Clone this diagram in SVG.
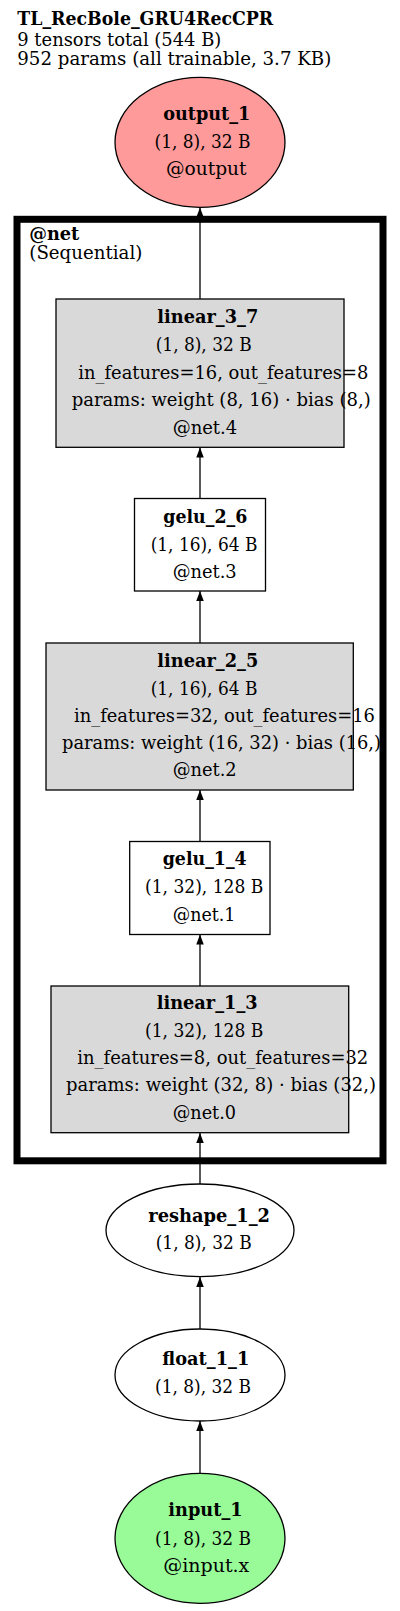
<svg xmlns="http://www.w3.org/2000/svg" width="400" height="1611" viewBox="0 0 400 1611">
<style>
text{font-family:"DejaVu Serif","Liberation Serif",serif;font-size:18px;fill:#000}
.b{font-weight:bold}
.box{fill:#d9d9d9;stroke:#000;stroke-width:1.3}
.wbox{fill:#fff;stroke:#000;stroke-width:1.3}
.ell{fill:#fff;stroke:#000;stroke-width:1.3}
.edge{stroke:#000;stroke-width:1.3;fill:none;marker-end:url(#ah)}
</style>
<defs>
<marker id="ah" markerUnits="userSpaceOnUse" markerWidth="11" markerHeight="8" refX="10" refY="3.75" orient="auto">
<path d="M0,0 L10,3.75 L0,7.5 z" fill="#000"/>
</marker>
</defs>
<rect width="400" height="1611" fill="#fff"/>
<g id="header">
<text class="b" x="17.3" y="25" textLength="256" lengthAdjust="spacingAndGlyphs">TL_RecBole_GRU4RecCPR</text>
<text x="17.3" y="45.5" textLength="204" lengthAdjust="spacingAndGlyphs">9 tensors total (544 B)</text>
<text x="17.3" y="65" textLength="314" lengthAdjust="spacingAndGlyphs">952 params (all trainable, 3.7 KB)</text>
</g>
<g id="cluster_net">
<rect x="17" y="219.3" width="366" height="941.5" fill="none" stroke="#000" stroke-width="7"/>
<text class="b" x="29.3" y="240" textLength="50" lengthAdjust="spacingAndGlyphs">@net</text>
<text x="29.3" y="259" textLength="113" lengthAdjust="spacingAndGlyphs">(Sequential)</text>
</g>
<g id="connectors">
<line class="edge" x1="200" y1="1473.5" x2="200" y2="1421"/>
<line class="edge" x1="200" y1="1329" x2="200" y2="1277"/>
<line class="edge" x1="200" y1="1184" x2="200" y2="1133"/>
<line class="edge" x1="200" y1="986" x2="200" y2="934.5"/>
<line class="edge" x1="200" y1="841.5" x2="200" y2="790"/>
<line class="edge" x1="200" y1="643" x2="200" y2="591"/>
<line class="edge" x1="200" y1="498.5" x2="200" y2="447.5"/>
<line class="edge" x1="200" y1="299" x2="200" y2="207.5"/>
</g>
<g id="output_1">
<ellipse cx="200" cy="142.3" rx="85" ry="65" fill="#ff9a9a" stroke="#000" stroke-width="1.3"/>
<text class="b" x="163.3" y="120" textLength="87" lengthAdjust="spacingAndGlyphs">output_1</text>
<text x="154.5" y="148" textLength="96" lengthAdjust="spacingAndGlyphs">(1, 8), 32 B</text>
<text x="166" y="175" textLength="80.5" lengthAdjust="spacingAndGlyphs">@output</text>
</g>
<g id="linear_3_7">
<rect class="box" x="56" y="299" width="288" height="148.3"/>
<text class="b" x="157.3" y="323" textLength="101" lengthAdjust="spacingAndGlyphs">linear_3_7</text>
<text x="155.7" y="351" textLength="96" lengthAdjust="spacingAndGlyphs">(1, 8), 32 B</text>
<text x="78.3" y="378.7" textLength="290" lengthAdjust="spacingAndGlyphs">in_features=16, out_features=8</text>
<text x="71.7" y="406.3" textLength="299" lengthAdjust="spacingAndGlyphs">params: weight (8, 16) · bias (8,)</text>
<text x="172.7" y="434" textLength="64.5" lengthAdjust="spacingAndGlyphs">@net.4</text>
</g>
<g id="gelu_2_6">
<rect class="wbox" x="134.5" y="498.5" width="131" height="92.5"/>
<text class="b" x="163.3" y="523.3" textLength="84" lengthAdjust="spacingAndGlyphs">gelu_2_6</text>
<text x="150.7" y="550.7" textLength="106.7" lengthAdjust="spacingAndGlyphs">(1, 16), 64 B</text>
<text x="172.7" y="578.3" textLength="64" lengthAdjust="spacingAndGlyphs">@net.3</text>
</g>
<g id="linear_2_5">
<rect class="box" x="46" y="643" width="307.3" height="147"/>
<text class="b" x="157.3" y="666.7" textLength="101" lengthAdjust="spacingAndGlyphs">linear_2_5</text>
<text x="150.7" y="694.5" textLength="106.7" lengthAdjust="spacingAndGlyphs">(1, 16), 64 B</text>
<text x="74" y="721.7" textLength="301" lengthAdjust="spacingAndGlyphs">in_features=32, out_features=16</text>
<text x="62" y="748.5" textLength="319" lengthAdjust="spacingAndGlyphs">params: weight (16, 32) · bias (16,)</text>
<text x="172.7" y="776" textLength="64" lengthAdjust="spacingAndGlyphs">@net.2</text>
</g>
<g id="gelu_1_4">
<rect class="wbox" x="129.7" y="841.5" width="140.3" height="93"/>
<text class="b" x="162.7" y="865" textLength="84" lengthAdjust="spacingAndGlyphs">gelu_1_4</text>
<text x="145" y="893" textLength="118.3" lengthAdjust="spacingAndGlyphs">(1, 32), 128 B</text>
<text x="172.7" y="920.7" textLength="62.7" lengthAdjust="spacingAndGlyphs">@net.1</text>
</g>
<g id="linear_1_3">
<rect class="box" x="51" y="986" width="297.7" height="146.7"/>
<text class="b" x="156.7" y="1009.3" textLength="101" lengthAdjust="spacingAndGlyphs">linear_1_3</text>
<text x="145" y="1036.5" textLength="118.3" lengthAdjust="spacingAndGlyphs">(1, 32), 128 B</text>
<text x="77.3" y="1064" textLength="291" lengthAdjust="spacingAndGlyphs">in_features=8, out_features=32</text>
<text x="66" y="1091.3" textLength="310" lengthAdjust="spacingAndGlyphs">params: weight (32, 8) · bias (32,)</text>
<text x="172.7" y="1119.3" textLength="63.3" lengthAdjust="spacingAndGlyphs">@net.0</text>
</g>
<g id="reshape_1_2">
<ellipse class="ell" cx="200" cy="1230.3" rx="94" ry="46.3"/>
<text class="b" x="148.3" y="1221.7" textLength="121.7" lengthAdjust="spacingAndGlyphs">reshape_1_2</text>
<text x="155.7" y="1249.3" textLength="96" lengthAdjust="spacingAndGlyphs">(1, 8), 32 B</text>
</g>
<g id="float_1_1">
<ellipse class="ell" cx="200" cy="1375" rx="85" ry="46"/>
<text class="b" x="162.3" y="1365" textLength="87" lengthAdjust="spacingAndGlyphs">float_1_1</text>
<text x="155" y="1393.3" textLength="96" lengthAdjust="spacingAndGlyphs">(1, 8), 32 B</text>
</g>
<g id="input_1">
<ellipse cx="200" cy="1538.3" rx="85" ry="65" fill="#98fb98" stroke="#000" stroke-width="1.3"/>
<text class="b" x="168.3" y="1516" textLength="74.3" lengthAdjust="spacingAndGlyphs">input_1</text>
<text x="155" y="1545" textLength="96" lengthAdjust="spacingAndGlyphs">(1, 8), 32 B</text>
<text x="163.3" y="1571.7" textLength="86" lengthAdjust="spacingAndGlyphs">@input.x</text>
</g>
</svg>
